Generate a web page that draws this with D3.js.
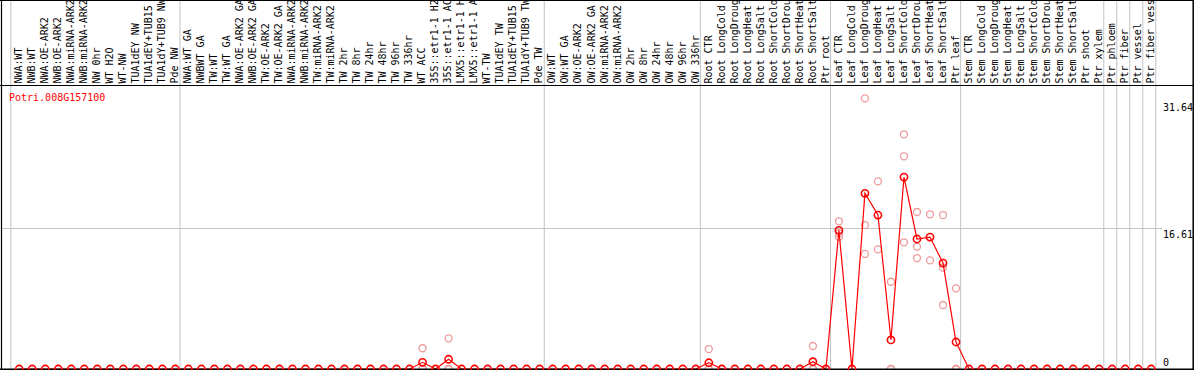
<!DOCTYPE html>
<html>
<head>
<meta charset="utf-8">
<script src="https://cdn.jsdelivr.net/npm/d3@7"></script>
<style>
  body { margin: 0; background: #fff; }
  svg { display: block; }
  text { font-family: "DejaVu Sans Mono", monospace; font-size: 10px; }
</style>
</head>
<body>
<svg id="chart" width="1194" height="370"></svg>
<script>
// sample names (as printed, cut at the top edge)
const categories = [
    "NWA:WT", "NWB:WT", "NWA:OE-ARK2", "NWB:OE-ARK2", "NWA:miRNA-ARK2", "NWB:miRNA-ARK2", "NW 0hr",
    "WT H2O", "WT-NW", "TUA1dEY NW", "TUA1dEY+TUB15", "TUA1dY+TUB9 NW", "Pde NW",
    "NWA:WT GA", "NWBWT GA", "TW:WT", "TW:WT GA", "NWA:OE-ARK2 GA", "NWB:OE-ARK2 GA", "TW:OE-ARK2",
    "TW:OE-ARK2 GA", "NWA:miRNA-ARK2", "NWB:miRNA-ARK2", "TW:miRNA-ARK2", "TW:miRNA-ARK2", "TW 2hr",
    "TW 8hr", "TW 24hr", "TW 48hr", "TW 96hr", "TW 336hr", "WT ACC", "35S::etr1-1 H2", "35S::etr1-1 AC",
    "LMX5::etr1-1 H", "LMX5::etr1-1 A", "WT-TW", "TUA1dEY TW", "TUA1dEY+TUB15", "TUA1dY+TUB9 TW", "Pde TW",
    "OW:WT", "OW:WT GA", "OW:OE-ARK2", "OW:OE-ARK2 GA", "OW:miRNA-ARK2", "OW:miRNA-ARK2", "OW 2hr",
    "OW 8hr", "OW 24hr", "OW 48hr", "OW 96hr", "OW 336hr",
    "Root CTR", "Root LongCold", "Root LongDroug", "Root LongHeat", "Root LongSalt", "Root ShortCold",
    "Root ShortDrou", "Root ShortHeat", "Root ShortSalt", "Ptr root",
    "Leaf CTR", "Leaf LongCold", "Leaf LongDroug", "Leaf LongHeat", "Leaf LongSalt", "Leaf ShortCold",
    "Leaf ShortDrou", "Leaf ShortHeat", "Leaf ShortSalt", "Ptr leaf",
    "Stem CTR", "Stem LongCold", "Stem LongDroug", "Stem LongHeat", "Stem LongSalt", "Stem ShortCold",
    "Stem ShortDrou", "Stem ShortHeat", "Stem ShortSalt", "Ptr shoot", "Ptr xylem",
    "Ptr phloem", "Ptr fiber", "Ptr vessel", "Ptr fiber vess"
];

// number of samples in each experiment block
const groupSizes = [13, 28, 12, 10, 10, 11, 1, 1, 1, 1];

// mean expression per sample
const meanValues = [
    0, 0, 0, 0, 0, 0, 0, 0, 0, 0, 0, 0, 0,
    0, 0, 0, 0, 0, 0, 0, 0, 0, 0, 0, 0, 0, 0, 0, 0, 0, 0, 0.79, 0, 1.15, 0, 0, 0, 0, 0, 0, 0,
    0, 0, 0, 0, 0, 0, 0, 0, 0, 0, 0, 0,
    0.74, 0, 0, 0, 0, 0, 0, 0, 0.86, 0,
    16.39, 0, 20.76, 18.19, 3.43, 22.68, 15.36, 15.59, 12.52, 3.19,
    0, 0, 0, 0, 0, 0, 0, 0, 0, 0, 0,
    0, 0, 0, 0
];

// replicate values where the sample is non-zero
const replicates = {
    "WT ACC": [2.45, 0, 0],
    "35S::etr1-1 AC": [3.63, 0, 0],
    "Root CTR": [2.36, 0, 0],
    "Root ShortSalt": [2.72, 0, 0],
    "Leaf CTR": [17.45, 15.63, 16.07],
    "Leaf LongDroug": [31.98, 17.01, 13.59],
    "Leaf LongHeat": [22.17, 14.14],
    "Leaf LongSalt": [10.31, 0, 0],
    "Leaf ShortCold": [27.73, 25.13, 14.97],
    "Leaf ShortDrou": [18.55, 14.45, 13.11],
    "Leaf ShortHeat": [18.28, 12.84],
    "Leaf ShortSalt": [18.19, 11.97, 7.56],
    "Ptr leaf": [9.53, 0, 0]
};

const yTicks = [0, 16.61, 31.64];
const gridValues = [16.61];
const geneName = "Potri.008G157100";

const width = 1194, height = 370;
const labelBottom = 85.5;

const svg = d3.select("#chart");

// x 위치
const xScale = d3.scaleBand()
    .domain(d3.range(categories.length))
    .range([10.8, 1155.8])
    .paddingInner(0)
    .paddingOuter(0);
const cx = i => xScale(i) + 8.4;

// y 위치
const yScale = d3.scaleLinear()
    .domain([0, 31.64])
    .range([369, 101.2]);

// 블록 경계선
const bounds = [0];
groupSizes.forEach(n => bounds.push(bounds[bounds.length - 1] + n));
svg.selectAll("line.sep")
    .data(bounds)
    .join("line")
    .attr("class", "sep")
    .attr("x1", d => d < categories.length ? xScale(d) : xScale.range()[1])
    .attr("x2", d => d < categories.length ? xScale(d) : xScale.range()[1])
    .attr("y1", 0)
    .attr("y2", height)
    .style("stroke", "#c4c4c4")
    .style("stroke-width", 1);

// grid
svg.selectAll("line.grid")
    .data(gridValues)
    .join("line")
    .attr("class", "grid")
    .attr("x1", 1.5)
    .attr("x2", 1162)
    .attr("y1", d => Math.round(yScale(d)) + 0.5)
    .attr("y2", d => Math.round(yScale(d)) + 0.5)
    .style("stroke", "#c4c4c4")
    .style("stroke-width", 1);

// sample labels
svg.selectAll("text.label")
    .data(categories)
    .join("text")
    .attr("class", "label")
    .attr("transform", (d, i) => `translate(${cx(i) + 2.8},83.5) rotate(-90)`)
    .style("fill", "#000")
    .text(d => d);

// frame
svg.append("line")
    .attr("x1", 0).attr("x2", width)
    .attr("y1", labelBottom).attr("y2", labelBottom)
    .style("stroke", "#000").style("stroke-width", 1.2);
svg.append("line")
    .attr("x1", 0).attr("x2", width)
    .attr("y1", 0.5).attr("y2", 0.5)
    .style("stroke", "#000").style("stroke-width", 1.2);
svg.append("line")
    .attr("x1", 1.5).attr("x2", 1.5)
    .attr("y1", 0).attr("y2", height)
    .style("stroke", "#000").style("stroke-width", 1.2);
svg.append("line")
    .attr("x1", 1193.2).attr("x2", 1193.2)
    .attr("y1", 0).attr("y2", height)
    .style("stroke", "#000").style("stroke-width", 1.5);

// y labels
svg.selectAll("text.ytick")
    .data(yTicks)
    .join("text")
    .attr("class", "ytick")
    .attr("x", 1163)
    .attr("y", d => d === 0 ? yScale(d) - 3 : yScale(d) + 9.5)
    .style("fill", "#000")
    .text(d => d);

// gene name
svg.append("text")
    .attr("x", 9)
    .attr("y", 101)
    .style("fill", "#ff0000")
    .text(geneName);

// replicate points
const repData = [];
Object.entries(replicates).forEach(([name, vals]) => {
    const idx = categories.indexOf(name);
    vals.forEach(v => repData.push({idx: idx, value: v}));
});
svg.selectAll("circle.rep")
    .data(repData)
    .join("circle")
    .attr("class", "rep")
    .attr("cx", d => cx(d.idx))
    .attr("cy", d => yScale(d.value))
    .attr("r", 3.5)
    .style("fill", "none")
    .style("stroke", "#ee9a9a")
    .style("stroke-width", 1.3);

// mean line
const line = d3.line()
    .x((d, i) => cx(i))
    .y(d => yScale(d));
svg.append("path")
    .datum(meanValues)
    .attr("d", line)
    .style("fill", "none")
    .style("stroke", "#ff0000")
    .style("stroke-width", 1.2);

// bottom border
svg.append("line")
    .attr("x1", 0).attr("x2", width)
    .attr("y1", 369.3).attr("y2", 369.3)
    .style("stroke", "#000").style("stroke-width", 1.5);

// mean points
svg.selectAll("circle.mean")
    .data(meanValues)
    .join("circle")
    .attr("class", "mean")
    .attr("cx", (d, i) => cx(i))
    .attr("cy", d => yScale(d))
    .attr("r", 3.6)
    .style("fill", "none")
    .style("stroke", "#ff0000")
    .style("stroke-width", 1.6);
</script>
</body>
</html>
